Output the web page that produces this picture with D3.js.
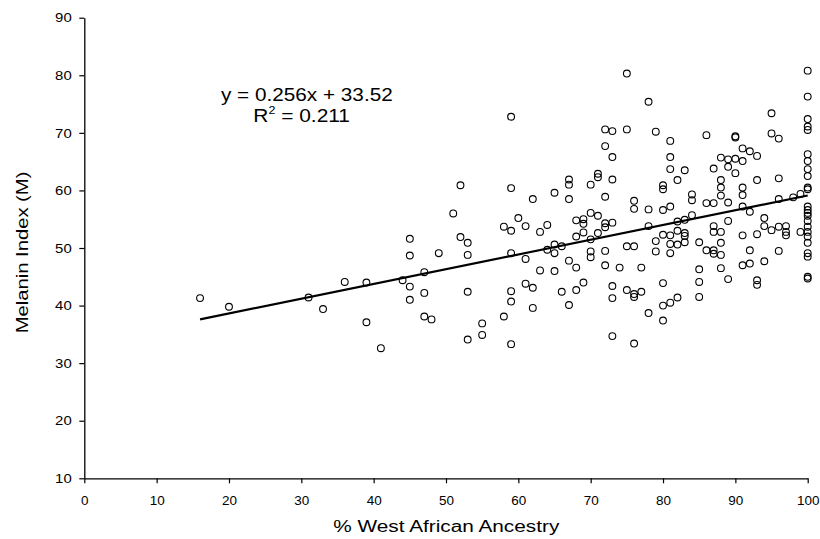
<!DOCTYPE html>
<html>

<head>
  <meta charset="utf-8">
  <title>Melanin Index vs West African Ancestry</title>
  <style>
    body { margin: 0; background: #fff; }
    text { font-family: "Liberation Sans", Arial, sans-serif; fill: #000; }
  </style>
</head>

<body>
  <svg></svg>
  <script src="https://d3js.org/d3.v7.min.js"></script>
  <script>
    const width = 820;
    const height = 539;

    // % West African ancestry of each subject
    const ancestry = [
      16, 20, 31, 33, 36, 39, 39, 41, 44, 45, 45, 45, 45, 47, 47, 47, 48, 49,
      51, 52, 52, 53, 53, 53, 53, 55, 55, 58, 58,
      59, 59, 59, 59, 59, 59, 59, 60, 61, 61, 61, 62, 62, 62, 63, 63, 64, 64,
      65, 65, 65, 65, 66, 66, 67, 67, 67, 67, 67, 68, 68, 68, 68,
      69, 69, 69, 69, 70, 70, 70, 70, 70, 71, 71, 71, 71,
      72, 72, 72, 72, 72, 72, 72, 73, 73, 73, 73, 73, 73, 73, 74,
      75, 75, 75, 75, 76, 76, 76, 76, 76, 76, 77, 77, 78, 78, 78, 78, 79, 79, 79,
      80, 80, 80, 80, 80, 80, 80, 81, 81, 81, 81, 81, 81, 81, 81,
      82, 82, 82, 82, 82, 83, 83, 83, 83, 83, 84, 84, 84, 85, 85, 85, 85,
      86, 86, 86, 87, 87, 87, 87, 87, 87, 88, 88, 88, 88, 88, 88, 88, 88,
      89, 89, 89, 89, 89, 90, 90, 90, 90, 91, 91, 91, 91, 91, 91, 91,
      92, 92, 92, 92, 93, 93, 93, 93, 93, 94, 94, 94, 95, 95, 95,
      96, 96, 96, 96, 96, 97, 97, 97, 98, 99, 99,
      100, 100, 100, 100, 100, 100, 100, 100, 100, 100, 100, 100,
      100, 100, 100, 100, 100, 100, 100, 100, 100, 100, 100, 100
    ];

    // melanin index (M), same order as above
    const melanin = [
      41.3, 39.8, 41.4, 39.4, 44.1, 44.0, 37.1, 32.6, 44.4, 51.6, 48.7, 43.3, 41.0, 45.8, 42.2, 38.1, 37.6, 49.1,
      56.0, 60.9, 51.9, 50.9, 48.8, 42.4, 34.1, 36.9, 34.9, 53.7, 38.1,
      72.8, 60.4, 53.0, 49.1, 42.5, 40.7, 33.3, 55.2, 53.8, 48.1, 43.8, 58.5, 43.1, 39.6, 52.8, 46.1, 54.0, 49.7,
      59.6, 50.6, 49.1, 46.0, 50.3, 42.4, 61.9, 61.0, 58.5, 47.8, 40.1, 54.8, 52.0, 46.6, 42.7,
      55.0, 54.2, 52.7, 44.0, 61.0, 56.1, 51.5, 49.4, 48.4, 62.9, 62.3, 55.6, 52.6,
      70.6, 67.7, 58.9, 54.3, 53.6, 49.5, 47.0, 70.3, 65.8, 61.9, 54.4, 43.4, 41.3, 34.7, 46.6,
      80.3, 70.6, 50.3, 42.7, 58.2, 56.8, 50.3, 42.0, 41.5, 33.4, 46.6, 42.4, 75.4, 56.7, 53.8, 38.7, 70.2, 51.2, 49.4,
      60.9, 60.2, 56.6, 52.3, 43.9, 40.0, 37.4, 68.6, 65.8, 63.7, 57.2, 52.2, 50.7, 49.1, 40.5,
      61.8, 54.6, 53.0, 50.6, 41.4, 63.5, 54.9, 52.6, 52.1, 51.0, 59.3, 58.3, 55.7, 51.0, 46.3, 44.1, 41.5,
      69.6, 57.8, 49.6, 63.8, 57.8, 53.8, 52.8, 49.6, 49.0, 65.7, 61.8, 60.5, 59.1, 52.8, 50.9, 48.8, 46.5,
      65.4, 64.1, 57.9, 54.7, 44.6, 69.4, 69.2, 65.5, 63.0, 67.3, 65.1, 60.5, 59.2, 57.2, 52.2, 47.0,
      66.8, 56.3, 49.6, 47.3, 66.0, 61.8, 52.4, 44.4, 43.6, 55.2, 53.8, 47.7, 73.4, 69.9, 53.1,
      69.0, 62.1, 58.5, 53.7, 49.5, 53.8, 52.8, 52.2, 58.8, 59.4, 52.8,
      80.8, 76.3, 72.4, 71.1, 70.5, 66.3, 65.1, 63.7, 62.5, 60.5, 60.2, 57.2,
      56.6, 56.1, 55.6, 54.7, 53.7, 52.8, 52.0, 50.9, 49.1, 48.5, 45.0, 44.7
    ];

    // linear trend line shown in the chart
    const slope = 0.256;
    const intercept = 33.52;
    const rSquared = 0.211;
    const trendRange = [16, 100];

    const xTicks = d3.range(0, 101, 10);
    const yTicks = d3.range(10, 91, 10);

    const x = d3.scaleLinear([0, 100], [84.3, 807.7]);
    const y = d3.scaleLinear([10, 90], [478.3, 17.7]);

    const svg = d3.select("svg")
      .attr("width", width)
      .attr("height", height)
      .attr("viewBox", [0, 0, width, height]);

    // axes
    const xAxis = svg.append("g")
      .attr("transform", `translate(0,${y(10)})`)
      .call(d3.axisBottom(x).tickValues(xTicks).tickSize(5).tickPadding(12.5).tickSizeOuter(0));
    const yAxis = svg.append("g")
      .attr("transform", `translate(${x(0)},0)`)
      .call(d3.axisLeft(y).tickValues(yTicks).tickSize(5).tickPadding(7.6).tickSizeOuter(0));

    [xAxis, yAxis].forEach(g => {
      g.select(".domain").attr("stroke", "#000").attr("stroke-width", 1.3);
      g.selectAll(".tick line").attr("stroke", "#000").attr("stroke-width", 1.2);
      g.selectAll(".tick text")
        .attr("font-family", "Liberation Sans, Arial, sans-serif")
        .attr("font-size", 13)
        .attr("fill", "#000");
    });
    xAxis.selectAll(".tick text")
      .attr("textLength", d => String(d).length * 7.5)
      .attr("lengthAdjust", "spacingAndGlyphs");
    yAxis.selectAll(".tick text")
      .attr("textLength", d => String(d).length * 8.3)
      .attr("lengthAdjust", "spacingAndGlyphs");

    // trend line
    const line = d3.line()
      .x(d => x(d))
      .y(d => y(slope * d + intercept));
    svg.append("path")
      .attr("d", line(trendRange))
      .attr("fill", "none")
      .attr("stroke", "#000")
      .attr("stroke-width", 2.2);

    // points
    svg.append("g")
      .selectAll("circle")
      .data(ancestry.map((a, i) => [a, melanin[i]]))
      .join("circle")
      .attr("cx", d => x(d[0]))
      .attr("cy", d => y(d[1]))
      .attr("r", 3.4)
      .attr("fill", "none")
      .attr("stroke", "#000")
      .attr("stroke-width", 1.1);

    // equation
    svg.append("text")
      .attr("x", 221)
      .attr("y", 101)
      .attr("font-size", 18.5)
      .attr("textLength", 171.7)
      .attr("lengthAdjust", "spacingAndGlyphs")
      .text(`y = ${slope}x + ${intercept}`);

    const r2 = svg.append("text")
      .attr("x", 253.3)
      .attr("y", 122)
      .attr("font-size", 18.5)
      .attr("textLength", 96.7)
      .attr("lengthAdjust", "spacingAndGlyphs");
    r2.append("tspan").text("R");
    r2.append("tspan").attr("font-size", 11).attr("dy", -8).text("2");
    r2.append("tspan").attr("dy", 8).text(` = ${rSquared}`);

    // axis titles
    svg.append("text")
      .attr("x", 333.3)
      .attr("y", 531.5)
      .attr("font-size", 16)
      .attr("textLength", 226)
      .attr("lengthAdjust", "spacingAndGlyphs")
      .text("% West African Ancestry");

    svg.append("text")
      .attr("transform", "translate(28.3,333.3) rotate(-90)")
      .attr("font-size", 16)
      .attr("textLength", 161.7)
      .attr("lengthAdjust", "spacingAndGlyphs")
      .text("Melanin Index (M)");
  </script>
</body>

</html>
